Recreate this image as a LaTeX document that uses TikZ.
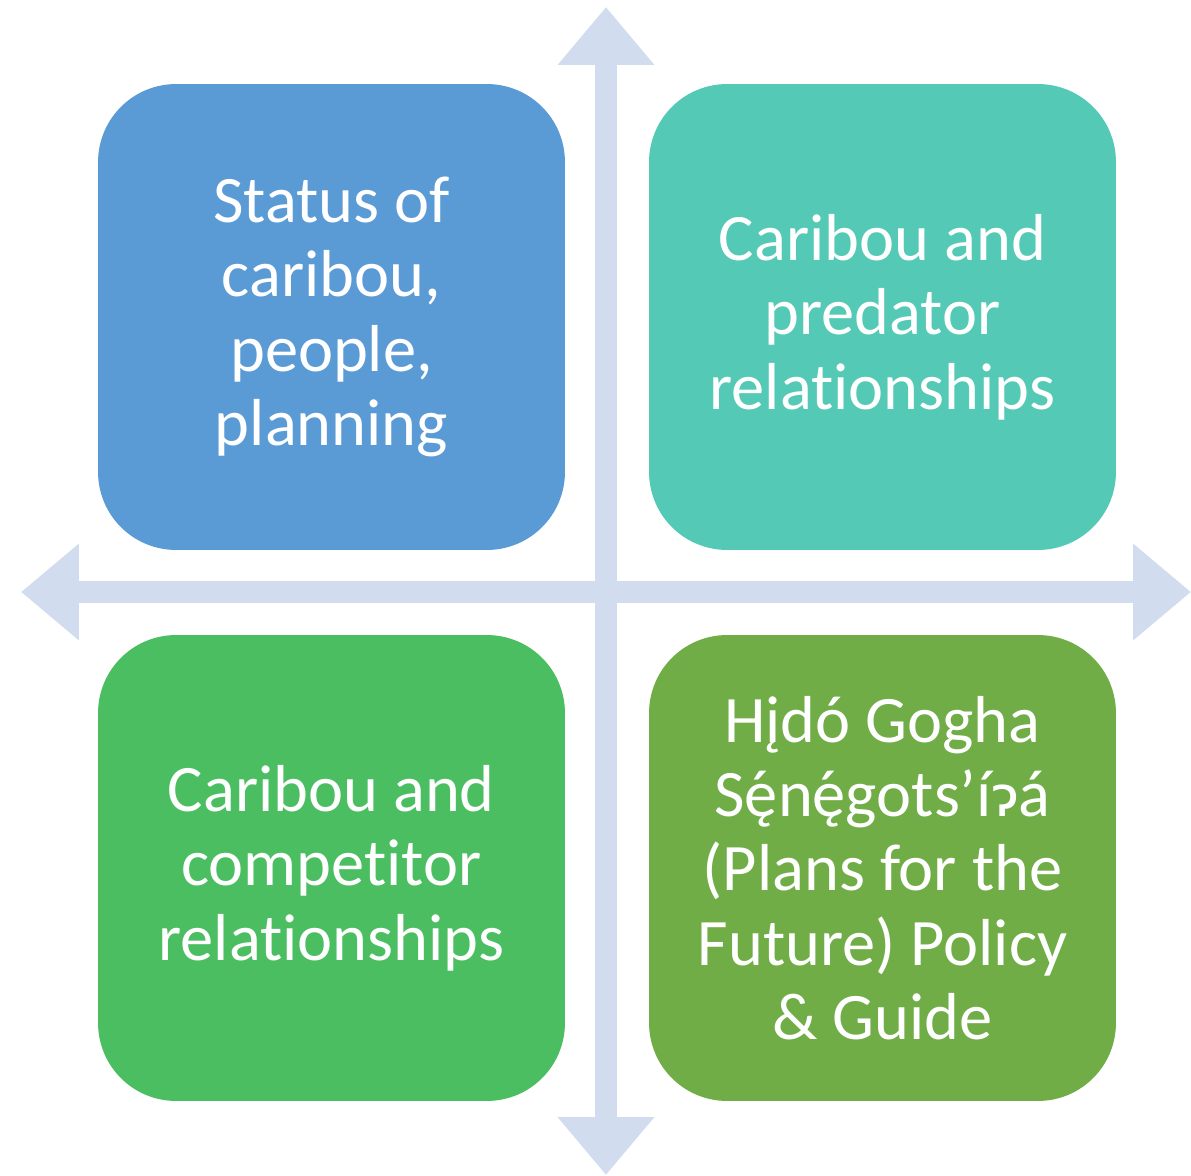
\documentclass[tikz,border=0pt]{standalone}
\usepackage{fontspec}
\setmainfont{Carlito}[Ligatures=NoCommon]
\newfontfamily\glotfont{DejaVu Sans}[Scale=0.85]
\newcommand\acuteon[1]{\accent"00B4 #1}
\usetikzlibrary{arrows.meta,positioning}
\definecolor{statusblue}{HTML}{5B9BD5}
\definecolor{predteal}{HTML}{53C9B6}
\definecolor{compgreen}{HTML}{4BBE62}
\definecolor{planolive}{HTML}{70AD47}
\definecolor{axisgrey}{HTML}{D1DDEE}

\begin{document}
\begin{tikzpicture}[x=0.02cm,y=-0.02cm,
    quad/.style={draw=none, rounded corners=1.56cm, minimum width=9.34cm,
        minimum height=9.32cm, text=white, align=center,
        font=\fontsize{37.8}{42.3}\selectfont},
    axis/.style={axisgrey, line width=12.6pt,
        {Triangle[length=33pt,width=53pt]}-{Triangle[length=33pt,width=53pt]}}]

    \useasboundingbox (0,0) rectangle (1191,1176);

    % axes
    \coordinate (up) at (606,7);
    \coordinate (down) at (606,1175);
    \coordinate (left) at (21,592);
    \coordinate (right) at (1191,592);
    \draw[axis] (down) -- (up);
    \draw[axis] (left) -- (right);

    % quadrants
    \node[quad, fill=statusblue] (status) at (331.5,317)
        {Status of\\caribou,\\people,\\planning};
    \node[quad, fill=predteal] (predator) at (882.5,317)
        {Caribou and\\predator\\relationships};
    \node[quad, fill=compgreen] (competitor) at (331.5,868)
        {Caribou and\\competitor\\relationships};
    \node[quad, fill=planolive] (plans) at (882.5,868)
        {H\k{\i}dó Gogha\\S\acuteon{ę}n\acuteon{ę}gots’í{\glotfont ɂ}á\\(Plans for the\\Future) Policy\\\& Guide};
\end{tikzpicture}
\end{document}
